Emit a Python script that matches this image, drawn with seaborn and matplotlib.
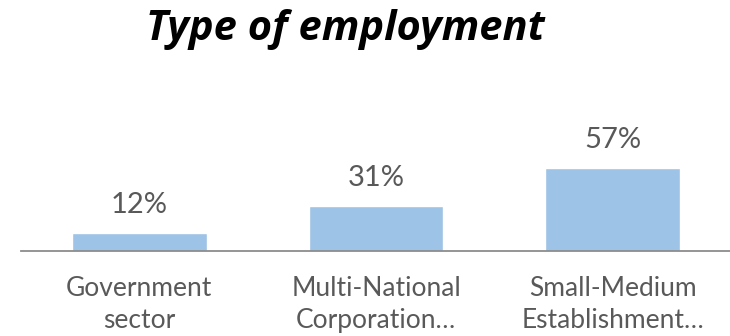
import matplotlib
matplotlib.use("Agg")
import matplotlib.pyplot as plt
import seaborn as sns
import pandas as pd

categories = ["Government\nsector", "Multi-National\nCorporation…", "Small-Medium\nEstablishment…"]
shares = [12, 31, 57]
value_labels = ["12%", "31%", "57%"]

sns.set_theme(style="white")
plt.rcParams["font.family"] = ["Lato", "DejaVu Sans"]

df = pd.DataFrame({"category": categories, "share": shares})

fig = plt.figure(figsize=(7.30, 3.36), dpi=100)
ax = fig.add_axes([21 / 730, 85 / 336, 710 / 730, 166 / 336])

sns.barplot(data=df, x="category", y="share", color="#9DC3E6", saturation=1,
            width=0.57, ax=ax)

ax.set_xlim(-0.5, 2.5)
ax.set_ylim(0, 166 / 1.46)

for i, (v, lab) in enumerate(zip(shares, value_labels)):
    ax.annotate(lab, xy=(i, v), xytext=(0, 14.5), textcoords="offset points",
                ha="center", va="baseline", fontsize=21, color="#595959")

for side in ["top", "right", "left"]:
    ax.spines[side].set_visible(False)
ax.spines["bottom"].set_color("#8C8C8C")
ax.spines["bottom"].set_linewidth(1.3)
ax.set_yticks([])
ax.set_xlabel("")
ax.set_ylabel("")
ax.tick_params(axis="x", length=0, pad=18, labelsize=19, labelcolor="#595959")
for t in ax.get_xticklabels():
    t.set_linespacing(1.35)

fig.text(345 / 730, 1 - 40 / 336, "Type of employment", ha="center", va="baseline",
         fontsize=30, fontweight="bold", fontstyle="italic", color="black",
         family=["Open Sans", "DejaVu Sans"])

fig.savefig("out.png", dpi=100)
